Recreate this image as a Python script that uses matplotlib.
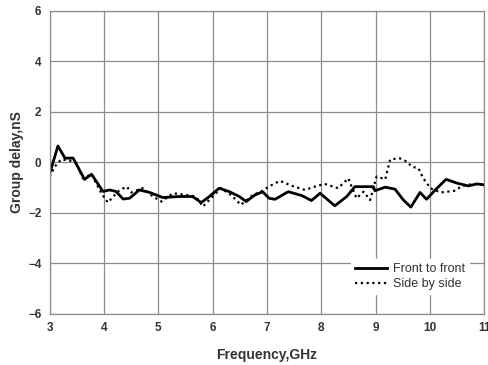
import matplotlib
matplotlib.use("Agg")
import matplotlib.pyplot as plt

plt.rcParams['font.family'] = ['Liberation Sans', 'DejaVu Sans']

# Front to front
f_front = [3.0, 3.15, 3.28, 3.43, 3.64, 3.77, 3.98, 4.10, 4.22, 4.35, 4.47, 4.65, 4.84,
           5.08, 5.39, 5.63, 5.79, 5.94, 6.12, 6.31, 6.49, 6.62, 6.77, 6.92, 7.04, 7.15,
           7.39, 7.64, 7.82, 7.98, 8.25, 8.47, 8.62, 8.96, 8.99, 9.18, 9.36, 9.51, 9.65,
           9.82, 9.94, 10.10, 10.30, 10.50, 10.71, 10.87, 11.0]
d_front = [-0.43, 0.65, 0.17, 0.17, -0.67, -0.47, -1.15, -1.09, -1.15, -1.45, -1.42, -1.09, -1.19,
           -1.39, -1.35, -1.35, -1.59, -1.35, -1.02, -1.16, -1.35, -1.55, -1.30, -1.16, -1.42, -1.46,
           -1.16, -1.31, -1.51, -1.22, -1.72, -1.35, -0.96, -0.96, -1.12, -0.98, -1.06, -1.48, -1.77,
           -1.19, -1.46, -1.09, -0.67, -0.82, -0.93, -0.85, -0.89]

# Side by side
f_side = [3.0, 3.09, 3.21, 3.37, 3.49, 3.61, 3.77, 3.95, 4.07, 4.17, 4.29, 4.42, 4.50, 4.71,
          4.90, 5.06, 5.27, 5.51, 5.69, 5.82, 6.00, 6.15, 6.34, 6.52, 6.74, 6.89, 7.04, 7.24,
          7.45, 7.70, 7.88, 8.06, 8.31, 8.50, 8.56, 8.65, 8.78, 8.90, 9.02, 9.18, 9.27, 9.45,
          9.58, 9.67, 9.79, 9.88, 10.01, 10.20, 10.47, 10.59, 10.81, 11.0]
d_side = [-0.56, -0.17, 0.12, 0.07, -0.03, -0.63, -0.47, -1.22, -1.59, -1.35, -1.09, -0.96, -1.19, -1.02,
          -1.35, -1.55, -1.22, -1.29, -1.35, -1.75, -1.35, -1.02, -1.29, -1.68, -1.29, -1.16, -0.95, -0.73,
          -0.92, -1.09, -0.96, -0.85, -1.02, -0.63, -0.96, -1.42, -1.16, -1.49, -0.56, -0.67, 0.12, 0.16,
          0.03, -0.17, -0.23, -0.63, -1.02, -1.19, -1.12, -0.93, -0.85, -0.89]

x_ticks = [3, 4, 5, 6, 7, 8, 9, 10, 11]
y_ticks = [-6, -4, -2, 0, 2, 4, 6]

fig = plt.figure(figsize=(4.88, 3.65), dpi=100)
ax = fig.add_axes([0.102, 0.140, 0.890, 0.830])

ax.plot(f_front, d_front, color='black', lw=2.0, solid_joinstyle='round', label='Front to front')
ax.plot(f_side, d_side, color='black', lw=1.6, linestyle=(0, (1, 1.6)), label='Side by side')

ax.set_xlim(3, 11)
ax.set_ylim(-6, 6)
ax.set_xticks(x_ticks)
ax.set_yticks(y_ticks)
ax.grid(True, color='#8c8c8c', lw=0.9)
ax.set_axisbelow(True)
for s in ax.spines.values():
    s.set_color('#8c8c8c')
    s.set_linewidth(0.9)
ax.tick_params(length=0, pad=6, labelsize=8.5, labelcolor='#333333')
for lab in ax.get_xticklabels() + ax.get_yticklabels():
    lab.set_fontweight('bold')

ax.set_xlabel('Frequency,GHz', fontsize=10, fontweight='bold', color='#333333', labelpad=10)
ax.set_ylabel('Group delay,nS', fontsize=10, fontweight='bold', color='#333333', labelpad=3)

leg = ax.legend(loc='lower right', bbox_to_anchor=(0.98, 0.045), frameon=True, fontsize=9,
                handlelength=2.6, handletextpad=0.5, borderpad=0.3, labelspacing=0.25)
leg.get_frame().set_edgecolor('white')
leg.get_frame().set_facecolor('white')
leg.get_frame().set_alpha(1)
for t in leg.get_texts():
    t.set_color('#333333')

fig.savefig('out.png', dpi=100)
